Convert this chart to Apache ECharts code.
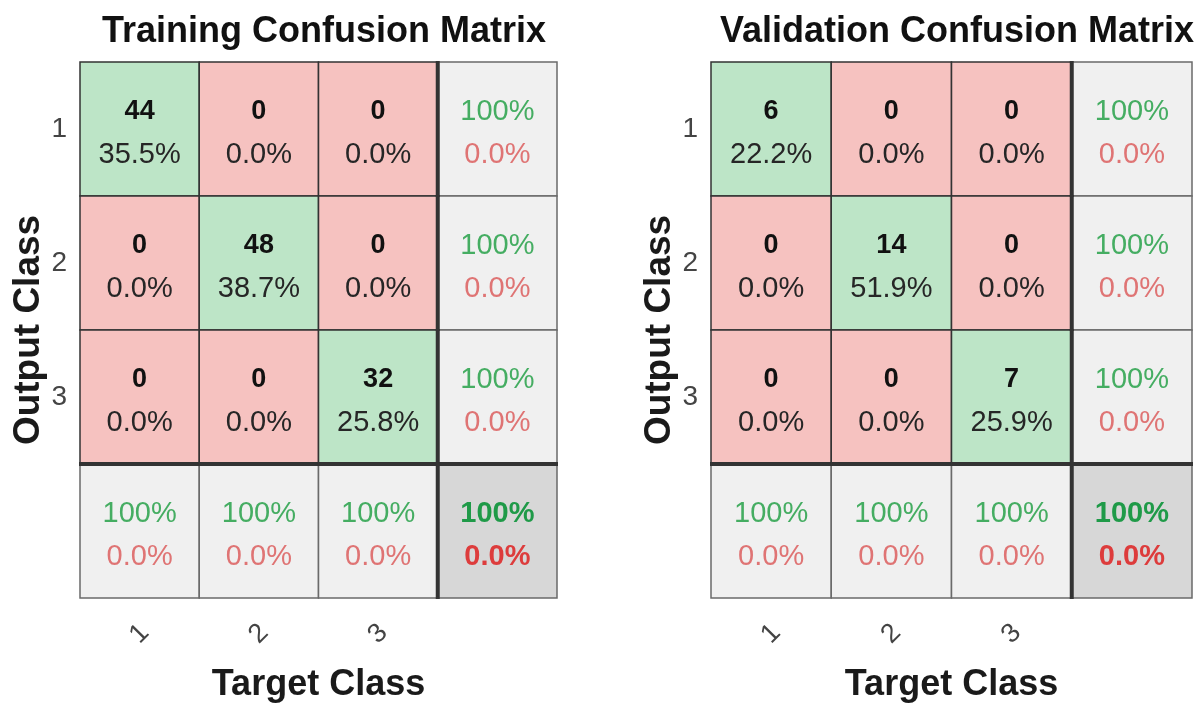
<!DOCTYPE html>
<html>
<head>
<meta charset="utf-8">
<title>Confusion Matrices</title>
<script src="https://cdn.jsdelivr.net/npm/echarts@6/dist/echarts.min.js"></script>
<style>
    html, body { margin: 0; padding: 0; background: #fff; }
    #chart { width: 1200px; height: 718px; }
</style>
</head>
<body>
<div id="chart"></div>
<script>
// 类别标签
var classLabels = ['1', '2', '3'];

// 训练集
var trainCounts = [[44, 0, 0], [0, 48, 0], [0, 0, 32]];
var trainPercents = [[35.5, 0.0, 0.0], [0.0, 38.7, 0.0], [0.0, 0.0, 25.8]];
var trainRowAcc = [100, 100, 100];
var trainColAcc = [100, 100, 100];
var trainTotalAcc = 100;

// 验证集
var valCounts = [[6, 0, 0], [0, 14, 0], [0, 0, 7]];
var valPercents = [[22.2, 0.0, 0.0], [0.0, 51.9, 0.0], [0.0, 0.0, 25.9]];
var valRowAcc = [100, 100, 100];
var valColAcc = [100, 100, 100];
var valTotalAcc = 100;

var FONT = '"Liberation Sans", Arial, sans-serif';
var cellColor = { diag: '#bde5c7', off: '#f6c2c0', sum: '#f0f0f0', total: '#d7d7d7' };

function fmtAcc(v) {
    return (v === 100 ? '100' : v.toFixed(1)) + '%';
}
function fmtErr(v) {
    return (100 - v).toFixed(1) + '%';
}

// 组装单元格数据（灰色格子先画，彩色格子后画）
function buildCells(counts, percents, rowAcc, colAcc, totalAcc) {
    var gray = [], colored = [];
    var n = counts.length;
    for (var r = 0; r < n; r++) {
        for (var c = 0; c < n; c++) {
            colored.push({
                value: [c, r],
                kind: r === c ? 'diag' : 'off',
                top: String(counts[r][c]),
                bottom: percents[r][c].toFixed(1) + '%'
            });
        }
        gray.push({ value: [n, r], kind: 'sum', top: fmtAcc(rowAcc[r]), bottom: fmtErr(rowAcc[r]) });
    }
    for (var k = 0; k < n; k++) {
        gray.push({ value: [k, n], kind: 'sum', top: fmtAcc(colAcc[k]), bottom: fmtErr(colAcc[k]) });
    }
    gray.push({ value: [n, n], kind: 'total', top: fmtAcc(totalAcc), bottom: fmtErr(totalAcc) });
    return gray.concat(colored);
}

function renderCell(cells) {
    return function (params, api) {
        var cell = cells[params.dataIndex];
        var p = api.coord([api.value(0), api.value(1)]);
        var s = api.size([1, 1]);
        var isGray = cell.kind === 'sum' || cell.kind === 'total';
        var bold = cell.kind === 'total' ? 'bold ' : '';
        var topStyle, bottomStyle;
        if (isGray) {
            topStyle = { fill: cell.kind === 'total' ? '#1f9a48' : '#45ad62', font: bold + '29px ' + FONT };
            bottomStyle = { fill: cell.kind === 'total' ? '#dd3c3c' : '#df7474', font: bold + '29px ' + FONT };
        } else {
            topStyle = { fill: '#111', font: 'bold 27px ' + FONT };
            bottomStyle = { fill: '#262626', font: '29px ' + FONT };
        }
        return {
            type: 'group',
            children: [
                {
                    type: 'rect',
                    shape: { x: p[0] - s[0] / 2, y: p[1] - s[1] / 2, width: s[0], height: s[1] },
                    style: { fill: cellColor[cell.kind], stroke: isGray ? '#6a6a6a' : '#333', lineWidth: 1.5 }
                },
                {
                    type: 'text',
                    style: {
                        text: cell.top, x: p[0], y: p[1] - s[1] * 0.13,
                        align: 'center', verticalAlign: 'middle',
                        fill: topStyle.fill, font: topStyle.font
                    }
                },
                {
                    type: 'text',
                    style: {
                        text: cell.bottom, x: p[0], y: p[1] + s[1] * 0.195,
                        align: 'center', verticalAlign: 'middle',
                        fill: bottomStyle.fill, font: bottomStyle.font
                    }
                }
            ]
        };
    };
}

// 粗分隔线：汇总行/列与主矩阵之间
function buildSeparators(n) {
    var list = [];
    for (var i = 0; i <= n; i++) {
        list.push([n, i, 0]);
        list.push([i, n, 1]);
    }
    return list;
}

function renderSeparator(params, api) {
    var p = api.coord([api.value(0), api.value(1)]);
    var s = api.size([1, 1]);
    var x0 = p[0] - s[0] / 2, y0 = p[1] - s[1] / 2;
    var shape = api.value(2) === 0
        ? { x1: x0, y1: y0 - 1, x2: x0, y2: y0 + s[1] + 1 }
        : { x1: x0 - 1, y1: y0, x2: x0 + s[0] + 1, y2: y0 };
    return { type: 'line', shape: shape, style: { stroke: '#333', lineWidth: 4 } };
}

var axisCats = classLabels.concat(['']);
var trainCells = buildCells(trainCounts, trainPercents, trainRowAcc, trainColAcc, trainTotalAcc);
var valCells = buildCells(valCounts, valPercents, valRowAcc, valColAcc, valTotalAcc);
var separators = buildSeparators(classLabels.length);

function xAxisFor(idx) {
    return {
        type: 'category', gridIndex: idx, data: axisCats,
        name: 'Target Class', nameLocation: 'middle', nameGap: 69,
        nameTextStyle: { fontFamily: FONT, fontSize: 36, fontWeight: 'bold', color: '#1a1a1a' },
        axisLine: { show: false }, axisTick: { show: false }, splitLine: { show: false },
        axisLabel: {
            rotate: 45, margin: 36, align: 'center', verticalAlign: 'middle',
            fontFamily: FONT, fontSize: 27, color: '#444'
        }
    };
}
function yAxisFor(idx) {
    return {
        type: 'category', gridIndex: idx, data: axisCats, inverse: true,
        name: 'Output Class', nameLocation: 'middle', nameGap: 27,
        nameTextStyle: { fontFamily: FONT, fontSize: 37, fontWeight: 'bold', color: '#1a1a1a' },
        axisLine: { show: false }, axisTick: { show: false }, splitLine: { show: false },
        axisLabel: { margin: 13, fontFamily: FONT, fontSize: 28, color: '#444' }
    };
}

var myChart = echarts.init(document.getElementById('chart'));
var option = {
    backgroundColor: '#fff',
    animation: false,
    title: [
        {
            text: 'Training Confusion Matrix', left: 319, top: 9, textAlign: 'center',
            textStyle: { fontFamily: FONT, fontSize: 36, fontWeight: 'bold', color: '#111' }
        },
        {
            text: 'Validation Confusion Matrix', left: 952, top: 9, textAlign: 'center',
            textStyle: { fontFamily: FONT, fontSize: 36, fontWeight: 'bold', color: '#111' }
        }
    ],
    grid: [
        { left: 80, top: 62, width: 477, height: 536 },
        { left: 711, top: 62, width: 481, height: 536 }
    ],
    xAxis: [xAxisFor(0), xAxisFor(1)],
    yAxis: [yAxisFor(0), yAxisFor(1)],
    series: [
        {
            type: 'custom', xAxisIndex: 0, yAxisIndex: 0, z: 2,
            renderItem: renderCell(trainCells), data: trainCells
        },
        {
            type: 'custom', xAxisIndex: 0, yAxisIndex: 0, z: 3,
            renderItem: renderSeparator, data: separators
        },
        {
            type: 'custom', xAxisIndex: 1, yAxisIndex: 1, z: 2,
            renderItem: renderCell(valCells), data: valCells
        },
        {
            type: 'custom', xAxisIndex: 1, yAxisIndex: 1, z: 3,
            renderItem: renderSeparator, data: separators
        }
    ]
};
myChart.setOption(option);
</script>
</body>
</html>
